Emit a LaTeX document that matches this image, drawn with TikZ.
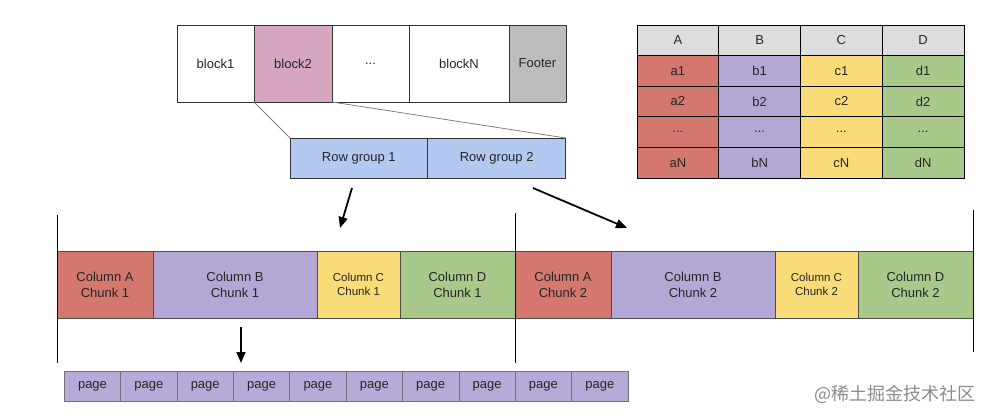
\documentclass[tikz,border=0pt]{standalone}
\usepackage{fontspec}
\setmainfont{Liberation Sans}
\newfontfamily\cjkfont{Noto Sans CJK SC}
\usepackage{xcolor}
\usetikzlibrary{positioning,arrows.meta}

\definecolor{colA}{HTML}{D4786F}
\definecolor{colB}{HTML}{B4A7D6}
\definecolor{colC}{HTML}{F9DB78}
\definecolor{colD}{HTML}{A9C98A}
\definecolor{colHead}{HTML}{DDDDDD}
\definecolor{colBlk}{HTML}{D5A6BD}
\definecolor{colFoot}{HTML}{BDBDBD}
\definecolor{colRG}{HTML}{B4C9F1}
\definecolor{colPage}{HTML}{B6AAD8}
\newcommand{\celldots}{...}

\begin{document}
\begin{tikzpicture}[x=1pt, y=-1pt,
  font=\fontsize{13}{16}\selectfont,
  box/.style={draw=black!80, line width=0.7pt, inner sep=0pt, outer sep=0pt, align=center, text=black!85},
  blk/.style={box, minimum height=77pt},
  rg/.style={box, fill=colRG, minimum width=138pt, minimum height=40pt},
  cell/.style={box, draw=black, minimum width=81.75pt, minimum height=30.6pt},
  chunk/.style={box, draw=black!70, minimum height=67pt},
  pg/.style={box, draw=black!55, fill=colPage, minimum width=56.37pt, minimum height=30pt},
  arr/.style={-{Triangle[length=11pt, width=9pt]}, line width=1.8pt},
  sep/.style={line width=1pt}]
\useasboundingbox (0,0) rectangle (991,418);

% file blocks
\node[blk, minimum width=77pt] (b1) at (215.5,63.5) {block1};
\node[blk, minimum width=78pt, fill=colBlk, right=0pt of b1] (b2) {block2};
\node[blk, minimum width=77pt, right=0pt of b2] (bdots) {...};
\node[blk, minimum width=100pt, right=0pt of bdots] (bN) {blockN};
\node[blk, minimum width=57pt, fill=colFoot, right=0pt of bN] (foot) {Footer};

% row groups of block2
\node[rg, minimum width=137.7pt] (rg1) at (358.85,158) {Row group 1};
\node[rg, right=0pt of rg1] (rg2) {Row group 2};
\draw[gray, line width=0.8pt] (b2.south west) -- (rg1.north west);
\draw[gray, line width=0.8pt] (b2.south east) -- (rg2.north east);

% table
\foreach \c/\h/\col [count=\i from 0] in {a/A/colA, b/B/colB, c/C/colC, d/D/colD} {
  \node[cell, fill=colHead] (h\c) at (677.875+81.75*\i, 40.3) {\h};
  \foreach \r/\t [count=\j] in {1/\c1, 2/\c2, x/\celldots, N/\c N}
    \node[cell, fill=\col] (\c\r) at (677.875+81.75*\i, 40.3+30.6*\j) {\t};
}

% column chunks
\foreach \k/\x in {1/57, 2/515} {
  \node[chunk, fill=colA, minimum width=96pt, anchor=west] (cA\k) at (\x,284.5) {Column A\\Chunk \k};
  \node[chunk, fill=colB, minimum width=164pt, right=0pt of cA\k] (cB\k) {Column B\\Chunk \k};
  \node[chunk, fill=colC, minimum width=83pt, font=\fontsize{11.5}{14}\selectfont, right=0pt of cB\k] (cC\k) {Column C\\Chunk \k};
  \node[chunk, fill=colD, minimum width=115pt, right=0pt of cC\k] (cD\k) {Column D\\Chunk \k};
}
\draw[sep] ([yshift=36pt]cA1.north west) -- ([yshift=-45pt]cA1.south west);
\draw[sep] ([yshift=38pt]cA2.north west) -- ([yshift=-45pt]cA2.south west);
\draw[sep] ([yshift=41pt]cD2.north east) -- ([yshift=-34pt]cD2.south east);

% pages
\foreach \i in {1,...,10}
  \node[pg] (p\i) at (36.115+56.37*\i, 386) {page};

% arrows
\coordinate (rgout1) at (352,188);
\coordinate (cin1) at (340,228);
\coordinate (rgout2) at (533,188);
\coordinate (cin2) at (627,228);
\coordinate (cout) at (241,327);
\coordinate (pin) at (241,363);
\draw[arr] (rgout1) -- (cin1);
\draw[arr] (rgout2) -- (cin2);
\draw[arr] (cout) -- (pin);

% watermark
\node[text=black!45, font=\cjkfont\fontsize{18}{18}\selectfont] (wm) at (895,394) {@稀土掘金技术社区};
\end{tikzpicture}
\end{document}
